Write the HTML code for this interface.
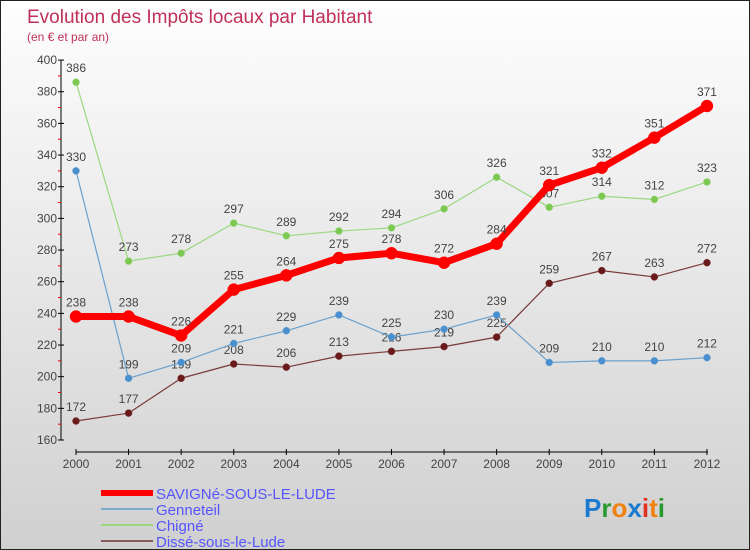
<!DOCTYPE html>
<html><head><meta charset="utf-8"><style>
body{margin:0}
#c{width:748px;height:548px;border:1px solid #222;background:linear-gradient(#fefefe,#d0d0d0);position:relative;font-family:"Liberation Sans",sans-serif;overflow:hidden}
text{font-family:"Liberation Sans",sans-serif}
</style></head><body>
<div id="c">
<svg id="s" width="748" height="548">
<text x="26" y="22" font-size="19" fill="#c0305a">Evolution des Impôts locaux par Habitant</text>
<text x="26" y="40" font-size="12" fill="#c0305a">(en € et par an)</text>
</svg>
</div>
<script>
const years=[2000,2001,2002,2003,2004,2005,2006,2007,2008,2009,2010,2011,2012];
const savigne=[238,238,226,255,264,275,278,272,284,321,332,351,371];
const genneteil=[330,199,209,221,229,239,225,230,239,209,210,210,212];
const chigne=[386,273,278,297,289,292,294,306,326,307,314,312,323];
const disse=[172,177,199,208,206,213,216,219,225,259,267,263,272];
const yTicks=[160,180,200,220,240,260,280,300,320,340,360,380,400];
const NS='http://www.w3.org/2000/svg';
const s=document.getElementById('s');
const X=i=>75+i*52.58, Y=v=>439-(v-160)*1.583;
function mk(t,a,p){const e=document.createElementNS(NS,t);for(const k in a)e.setAttribute(k,a[k]);(p||s).appendChild(e);return e;}
// axes
let ax=mk('line',{x1:60,y1:59,x2:60,y2:439,stroke:'#000','stroke-width':1});


ax=mk('line',{x1:75,y1:451,x2:707,y2:451,stroke:'#000','stroke-width':1});


yTicks.forEach((v,i)=>{
 mk('line',{x1:57,y1:Y(v),x2:63,y2:Y(v),stroke:'#000'});
 if(i<yTicks.length-1)mk('line',{x1:57,y1:Y(v+10),x2:60,y2:Y(v+10),stroke:'#e00'});
 const t=mk('text',{x:56,y:Y(v)+4,'font-size':12,fill:'#444','text-anchor':'end'});t.textContent=v;
 
 
});
years.forEach((y,i)=>{
 mk('line',{x1:X(i),y1:448,x2:X(i),y2:454,stroke:'#000'});
 const t=mk('text',{x:X(i),y:467,'font-size':12,fill:'#444','text-anchor':'middle'});t.textContent=y;
 
 
});
function series(d,col,dot,w,r,name){
 const g=mk('g',{});
 
 
 mk('polyline',{points:d.map((v,i)=>X(i)+','+Y(v)).join(' '),fill:'none',stroke:col,'stroke-width':w,'stroke-linejoin':'round'},g);
 d.forEach((v,i)=>{
  const c=mk('circle',{cx:X(i),cy:Y(v),r:r,fill:dot,stroke:col,'stroke-width':0.5},g);
  
  
  const t=mk('text',{x:X(i),y:Y(v)-10,'font-size':12,fill:'#444','text-anchor':'middle'},g);t.textContent=v;
 });
}
series(disse,'#7a3a3a','#6a1a1a',1.2,3.5,'disse-series');
series(genneteil,'#6aa0cc','#4a90d0',1.2,3.5,'genneteil-series');
series(chigne,'#9ad880','#7cc850',1.2,3.5,'chigne-series');
series(savigne,'#f00','#f00',7,6,'savigne-series');
// legend
const leg=[['SAVIGNé-SOUS-LE-LUDE','#f00',6],['Genneteil','#7aaacc',2],['Chigné','#9ad880',2],['Dissé-sous-le-Lude','#8a5a5a',2]];
leg.forEach((l,i)=>{
 const y=492+i*16;
 const g=mk('g',{});
 
 
 mk('line',{x1:100,y1:y,x2:152,y2:y,stroke:l[1],'stroke-width':l[2]},g);
 const t=mk('text',{x:155,y:y+6,'font-size':15,fill:'#55f'},g);t.textContent=l[0];
});
const lg=mk('text',{x:583,y:516,'font-size':26,'font-weight':'bold'});


[['P','#1a7ad0'],['r','#2a9a30'],['o','#f08010'],['x','#1a7ad0'],['i','#e03020'],['t','#f08010'],['i','#2a9a30']].forEach(p=>{const ts=mk('tspan',{fill:p[1]},lg);ts.textContent=p[0];});
</script>
</body></html>
